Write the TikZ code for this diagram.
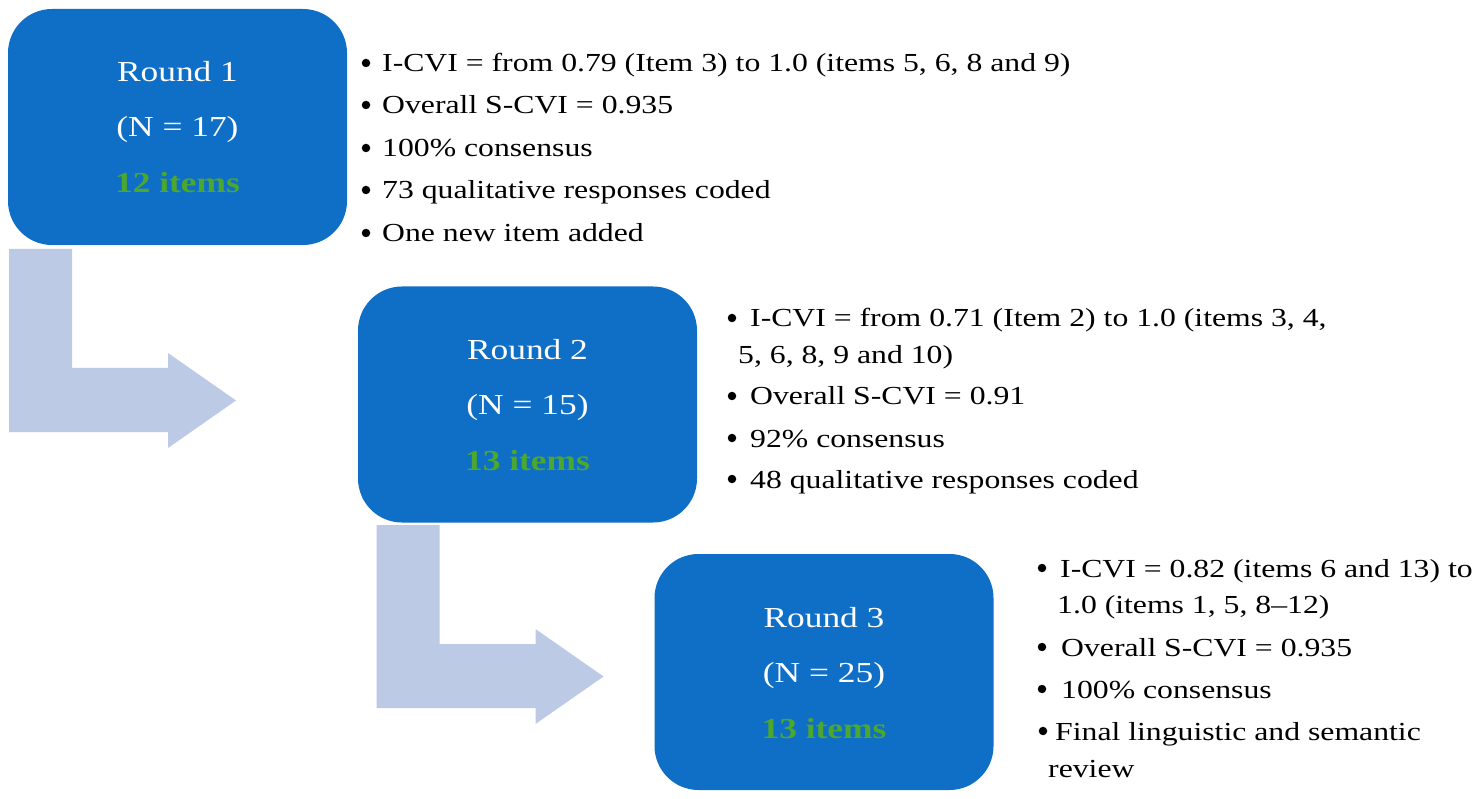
\documentclass[tikz,border=0pt]{standalone}
\usepackage{fontspec}
\setmainfont{Liberation Serif}[FakeStretch=1.22]
\definecolor{boxblue}{HTML}{0F6FC6}
\definecolor{arrowblue}{HTML}{BCCAE6}
\definecolor{itemgreen}{HTML}{4CA72E}
\newcommand\bitem[5]{%
  \node[bul] (#1b) at (#2,#4-9) {};
  \node[txt,anchor=base west] (#1) at (#3,#4) {#5};}
\newcommand\contline[4]{%
  \node[txt,anchor=base west] (#1) at (#2,#3) {#4};}
\begin{document}
\begin{tikzpicture}[x=1pt,y=-1pt,
  rbox/.style={fill=boxblue,draw=none,rounded corners=44pt,minimum width=339pt,minimum height=236pt,inner sep=0pt},
  bent/.style={fill=arrowblue,draw=none},
  lbl/.style={text=white,font=\fontsize{29}{34}\selectfont,inner sep=0pt,anchor=base},
  grn/.style={text=itemgreen,font=\fontsize{29}{34}\selectfont\bfseries,inner sep=0pt,anchor=base},
  txt/.style={font=\fontsize{26}{36}\selectfont,inner sep=0pt},
  bul/.style={circle,fill=black,draw=none,minimum size=8.5pt,inner sep=0pt}]
\useasboundingbox (0,0) rectangle (1475,799);
% bent arrows
\coordinate (a1) at (0,0);
\coordinate (a2) at (367.5,276);
\foreach \c in {a1,a2}{
  \begin{scope}[shift={(\c)}]
  \fill[bent] (9,249) -- (72,249) -- (72,368) -- (168,368) -- (168,353) -- (236,400.5)
     -- (168,448) -- (168,432) -- (9,432) -- cycle;
  \end{scope}}
% boxes
\node[rbox] (b1) at (177.5,127) {};
\node[rbox] (b2) at (527.5,404.5) {};
\node[rbox] (b3) at (824,672) {};
% box labels
\node[lbl] (b1r) at ([yshift=45pt]b1.center) {Round 1};
\node[lbl] (b1n) at ([yshift=-10pt]b1.center) {(N = 17)};
\node[grn] (b1i) at ([yshift=-66pt]b1.center) {12 items};
\node[lbl] (b2r) at ([yshift=45pt]b2.center) {Round 2};
\node[lbl] (b2n) at ([yshift=-10pt]b2.center) {(N = 15)};
\node[grn] (b2i) at ([yshift=-66pt]b2.center) {13 items};
\node[lbl] (b3r) at ([yshift=45pt]b3.center) {Round 3};
\node[lbl] (b3n) at ([yshift=-10pt]b3.center) {(N = 25)};
\node[grn] (b3i) at ([yshift=-66pt]b3.center) {13 items};
% list 1
\bitem{l1a}{366}{382}{72}{I-CVI = from 0.79 (Item 3) to 1.0 (items 5, 6, 8 and 9)}
\bitem{l1b}{366}{382}{114}{Overall S-CVI = 0.935}
\bitem{l1c}{366}{382}{157}{100\% consensus}
\bitem{l1d}{366}{382}{199}{73 qualitative responses coded}
\bitem{l1e}{366}{382}{242}{One new item added}
% list 2
\bitem{l2a}{732}{750}{327}{I-CVI = from 0.71 (Item 2) to 1.0 (items 3, 4,}
\contline{l2a2}{738}{363}{5, 6, 8, 9 and 10)}
\bitem{l2b}{732}{750}{405}{Overall S-CVI = 0.91}
\bitem{l2c}{732}{750}{447}{92\% consensus}
\bitem{l2d}{732}{750}{488}{48 qualitative responses coded}
% list 3
\bitem{l3a}{1042}{1060}{577}{I-CVI = 0.82 (items 6 and 13) to}
\contline{l3a2}{1057}{613}{1.0 (items 1, 5, 8–12)}
\bitem{l3b}{1042}{1061}{656}{Overall S-CVI = 0.935}
\bitem{l3c}{1042}{1061}{698}{100\% consensus}
\bitem{l3d}{1043}{1055}{740}{Final linguistic and semantic}
\contline{l3d2}{1048}{777}{review}
\end{tikzpicture}
\end{document}
